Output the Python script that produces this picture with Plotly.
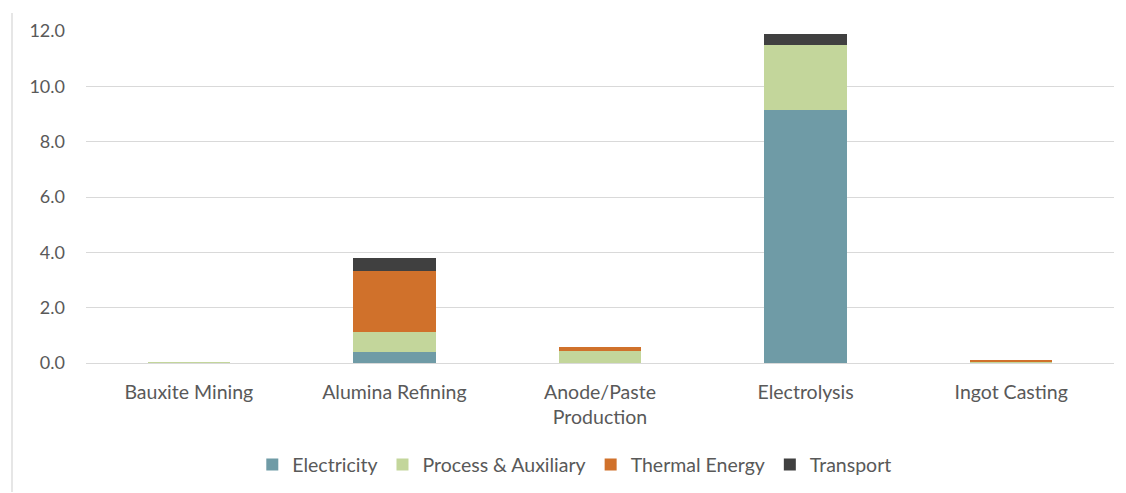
import plotly.graph_objects as go

stages = ["Bauxite Mining", "Alumina Refining", "Anode/Paste<br>Production",
          "Electrolysis", "Ingot Casting"]

electricity = [0.0, 0.40, 0.0, 9.15, 0.0]
process_aux = [0.03, 0.72, 0.43, 2.35, 0.02]
thermal = [0.0, 2.20, 0.14, 0.0, 0.10]
transport = [0.0, 0.47, 0.0, 0.40, 0.0]

y_ticks = [0, 2, 4, 6, 8, 10, 12]
y_tick_text = ["0.0", "2.0", "4.0", "6.0", "8.0", "10.0", "12.0"]

series = [
    ("Electricity", electricity, "#6f9ba6"),
    ("Process & Auxiliary", process_aux, "#c3d69b"),
    ("Thermal Energy", thermal, "#d0712b"),
    ("Transport", transport, "#404040"),
]

FONT = "Lato, 'Open Sans', sans-serif"
TEXT = "#595959"

fig = go.Figure()
for name, vals, color in series:
    fig.add_trace(go.Bar(
        x=stages, y=vals, name=name,
        marker=dict(color=color, line=dict(width=0)),
    ))

fig.update_layout(
    barmode="stack",
    bargap=0.6,
    width=1126, height=493,
    margin=dict(l=86, r=12, t=31, b=130, autoexpand=False),
    paper_bgcolor="white",
    plot_bgcolor="white",
    font=dict(family=FONT, size=18, color=TEXT),
    showlegend=True,
    legend=dict(
        orientation="h",
        x=0.475, xanchor="center",
        y=-0.307, yanchor="middle",
        font=dict(size=19.5, color=TEXT),
        itemwidth=30,
        tracegroupgap=0,
        traceorder="normal",
    ),
    xaxis=dict(
        showgrid=False,
        showline=False,
        ticks="",
        automargin=False,
        tickfont=dict(size=19.5, color=TEXT),
        ticklabelstandoff=15,
    ),
    yaxis=dict(
        range=[0, 12],
        tickvals=y_ticks,
        ticktext=y_tick_text,
        showgrid=True,
        gridcolor="#d9d9d9",
        gridwidth=1,
        zeroline=True,
        zerolinecolor="#d9d9d9",
        zerolinewidth=1,
        showline=False,
        ticks="",
        automargin=False,
        ticklabelstandoff=20,
        tickfont=dict(size=18, color=TEXT),
    ),
)

# thin frame line at the left edge of the figure
fig.add_shape(
    type="line", xref="paper", yref="paper",
    x0=-74 / 1028, x1=-74 / 1028,
    y0=(363 - 492) / 332, y1=(363 - 13) / 332,
    line=dict(color="#e6e6e6", width=2),
)

fig.write_html("out.html")
